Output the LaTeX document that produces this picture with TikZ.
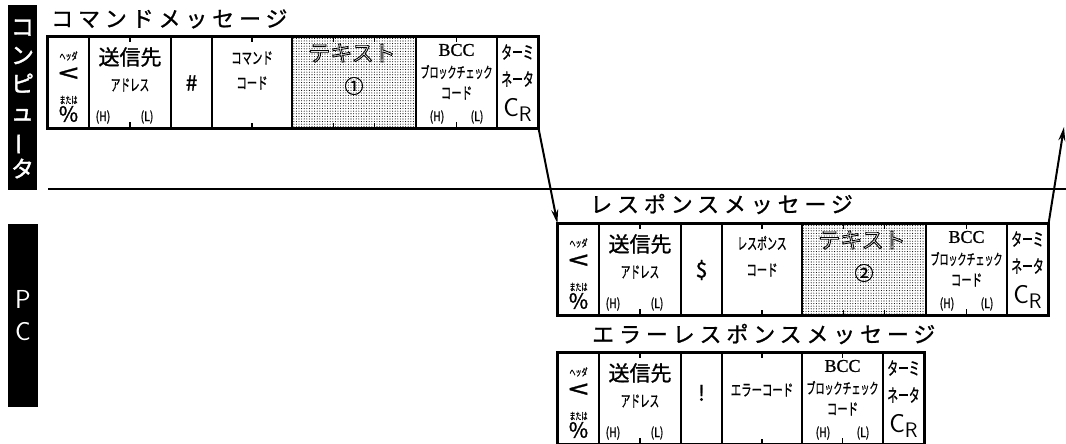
\documentclass[tikz,border=0pt]{standalone}
\usepackage{fontspec}
\newfontfamily\jp[FakeBold=1.2]{Noto Sans CJK JP}
\newfontfamily\jpt[LetterSpace=22,FakeBold=1]{Noto Sans CJK JP}
\newfontfamily\jpbar[FakeBold=1.5]{Noto Sans CJK JP}
\newfontfamily\jpo[FakeBold=4]{Noto Sans CJK JP}
\newfontfamily\serifb[FakeBold=1]{Liberation Serif}
\usetikzlibrary{arrows.meta,patterns.meta,calc}
\newcommand\nrw[2][0.6]{\scalebox{#1}[1]{#2}}
\newcommand\fs[1]{\fontsize{#1}{#1}\selectfont}
\newcommand\vbar{\rotatebox[origin=c]{90}{ー}}
\newcommand\hollow[1]{{\color{white}\special{pdf:literal direct 0 0 0 RG}#1}}
\tikzset{
  cell/.style={draw, line width=1.2pt, inner sep=0pt, minimum height=91pt},
  outer/.style={draw, line width=2.6pt},
  txt/.style={inner sep=0pt, font=\jp},
  tick/.style={line width=1.2pt},
  arr/.style={line width=2pt, -{Stealth[length=14pt,width=7pt]}},
  dotfill/.style={pattern={Dots[distance=2.6pt,radius=0.55pt]}, pattern color=black},
  ttl/.style={inner sep=0pt, anchor=west, font=\jpt\fs{22}},
  bar/.style={fill=black, text=white, inner sep=0pt, align=center},
}
\newcommand\colHead[2]{%
  \node[cell, minimum width=41pt] (#1hd) at (#2+20.5,45.5) {};
  \node[txt, font=\jp\fs{10}] (#1hda) at (#2+20.5,19) {\nrw{ヘッダ}};
  \node[txt, font=\jp\fs{24}] (#1hdb) at (#2+20.5,38) {\scalebox{1.5}[1.05]{<}};
  \node[txt, font=\jp\fs{10}] (#1hdc) at (#2+20.5,63) {\nrw{または}};
  \node[txt, font=\jp\fs{21}] (#1hdd) at (#2+20.5,77) {\%};
}
\newcommand\colAddr[2]{%
  \node[cell, minimum width=82pt] (#1ad) at (#2+41,45.5) {};
  \node[txt, font=\jp\fs{21}] (#1ada) at (#2+41,20) {送信先};
  \node[txt, font=\jp\fs{16}] (#1adb) at (#2+41,48) {\nrw[0.6]{アドレス}};
  \node[txt, font=\jp\fs{13}] (#1adc) at (#2+14,80) {\nrw[0.8]{(H)}};
  \node[txt, font=\jp\fs{13}] (#1add) at (#2+58,80) {\nrw[0.8]{(L)}};
  \draw[tick] (#1ad.north) -- ++(0,6);
  \draw[tick] (#1ad.south) -- ++(0,-7);
}
\newcommand\colChar[4]{%
  \node[cell, minimum width=41pt] (#1ch) at (#2+20.5,45.5) {};
  \node[txt, font=\jp\fs{21}] (#1cha) at (#2+20.5,#4) {#3};
}
\newcommand\colCodeCell[2]{%
  \node[cell, minimum width=80pt] (#1cd) at (#2+40,45.5) {};
  \draw[tick] (#1cd.north) -- ++(0,6);
  \draw[tick] (#1cd.south) -- ++(0,-6);
}
\newcommand\colText[3]{%
  \node[cell, minimum width=124pt, dotfill] (#1tx) at (#2+62,45.5) {};
  \node[txt, font=\jpo\fs{22}] (#1txa) at (#2+60,16) {\hollow{テキスト}};
  \node[txt, font=\jp\fs{19}] (#1txb) at (#2+62,49) {#3};
  \draw[tick] ($(#1tx.north west)!1/3!(#1tx.north east)$) -- ++(0,6);
  \draw[tick] ($(#1tx.north west)!2/3!(#1tx.north east)$) -- ++(0,6);
  \draw[tick] ($(#1tx.south west)!1/3!(#1tx.south east)$) -- ++(0,-6);
  \draw[tick] ($(#1tx.south west)!2/3!(#1tx.south east)$) -- ++(0,-6);
}
\newcommand\colBCC[2]{%
  \node[cell, minimum width=81pt] (#1bc) at (#2+40.5,45.5) {};
  \node[txt, font=\serifb\fs{18}] (#1bca) at (#2+40.5,13) {BCC};
  \node[txt, font=\jp\fs{15}] (#1bcb) at (#2+40.5,35) {\nrw[0.6]{ブロックチェック}};
  \node[txt, font=\jp\fs{16}] (#1bcc) at (#2+40.5,56) {\nrw[0.65]{コード}};
  \node[txt, font=\jp\fs{13}] (#1bcd) at (#2+21,80) {\nrw[0.8]{(H)}};
  \node[txt, font=\jp\fs{13}] (#1bce) at (#2+61,80) {\nrw[0.8]{(L)}};
  \draw[tick] (#1bc.north) -- ++(0,6);
  \draw[tick] (#1bc.south) -- ++(0,-7);
}
\newcommand\colTerm[2]{%
  \node[cell, minimum width=41pt] (#1tm) at (#2+20.5,45.5) {};
  \node[txt, font=\jp\fs{18}] (#1tma) at (#2+20.5,15) {\nrw[0.6]{ターミ}};
  \node[txt, font=\jp\fs{18}] (#1tmb) at (#2+20.5,42) {\nrw[0.6]{ネータ}};
  \node[txt, font=\sffamily\fs{26}] (#1tmc) at (#2+20.5,73) {C\raisebox{-5pt}{\fs{21}R}};
}
\begin{document}
\begin{tikzpicture}[x=1pt,y=-1pt]
\useasboundingbox (0,0) rectangle (1066,444);

% side bars
\node[bar, minimum width=29pt, minimum height=185pt] (barpc) at (22.5,97.5) {};
\node[inner sep=0pt, text=white, align=center, font=\jpbar\fontsize{23}{28.4}\selectfont]
  (barpctxt) at (22.5,99) {コ\\ン\\ピ\\ュ\\{\vbar}\\タ};
\node[bar, minimum width=30pt, minimum height=183pt] (barplc) at (23,315.5) {};
\node[inner sep=0pt, text=white, align=center, font=\sffamily\fontsize{26}{32}\selectfont]
  (barplctxt) at (23,316) {P\\C};

% separator
\draw[line width=1.3pt] (48,189) -- (1066,189);

% titles
\node[ttl] (ttlA) at (51,19) {コマンドメッセージ};
\node[ttl] (ttlB) at (590,204) {レスポンスメッセージ};
\node[ttl] (ttlC) at (592,334) {エラーレスポンスメッセージ};

% command message
\begin{scope}[shift={(0,37)}]
  \colHead{A}{48}
  \colAddr{A}{89}
  \colChar{A}{171}{\#}{46}
  \colCodeCell{A}{212}
  \node[txt, font=\jp\fs{16}] (Acda) at (252,21) {\nrw[0.65]{コマンド}};
  \node[txt, font=\jp\fs{16}] (Acdb) at (252,46) {\nrw[0.65]{コード}};
  \colText{A}{292}{①}
  \colBCC{A}{416}
  \colTerm{A}{497}
  \draw[outer] (Ahd.north west) rectangle (Atm.south east);
\end{scope}

% response message
\begin{scope}[shift={(510,224)}]
  \colHead{B}{48}
  \colAddr{B}{89}
  \colChar{B}{171}{\$}{46}
  \colCodeCell{B}{212}
  \node[txt, font=\jp\fs{16}] (Bcda) at (252,19) {\nrw[0.62]{レスポンス}};
  \node[txt, font=\jp\fs{16}] (Bcdb) at (252,46) {\nrw[0.65]{コード}};
  \colText{B}{292}{②}
  \colBCC{B}{416}
  \colTerm{B}{497}
  \draw[outer] (Bhd.north west) rectangle (Btm.south east);
\end{scope}

% error response message
\begin{scope}[shift={(510,353)}]
  \colHead{C}{48}
  \colAddr{C}{89}
  \colChar{C}{171}{!}{40}
  \colCodeCell{C}{212}
  \node[txt, font=\jp\fs{16}] (Ccda) at (252,37) {\nrw[0.65]{エラーコード}};
  \colBCC{C}{292}
  \colTerm{C}{373}
  \draw[outer] (Chd.north west) rectangle (Ctm.south east);
\end{scope}

% connectors
\coordinate (upend) at (1064,127);
\draw[arr] (Atm.south east) -- (Bhd.north west);
\draw[arr] (Btm.north east) -- (upend);
\end{tikzpicture}
\end{document}
